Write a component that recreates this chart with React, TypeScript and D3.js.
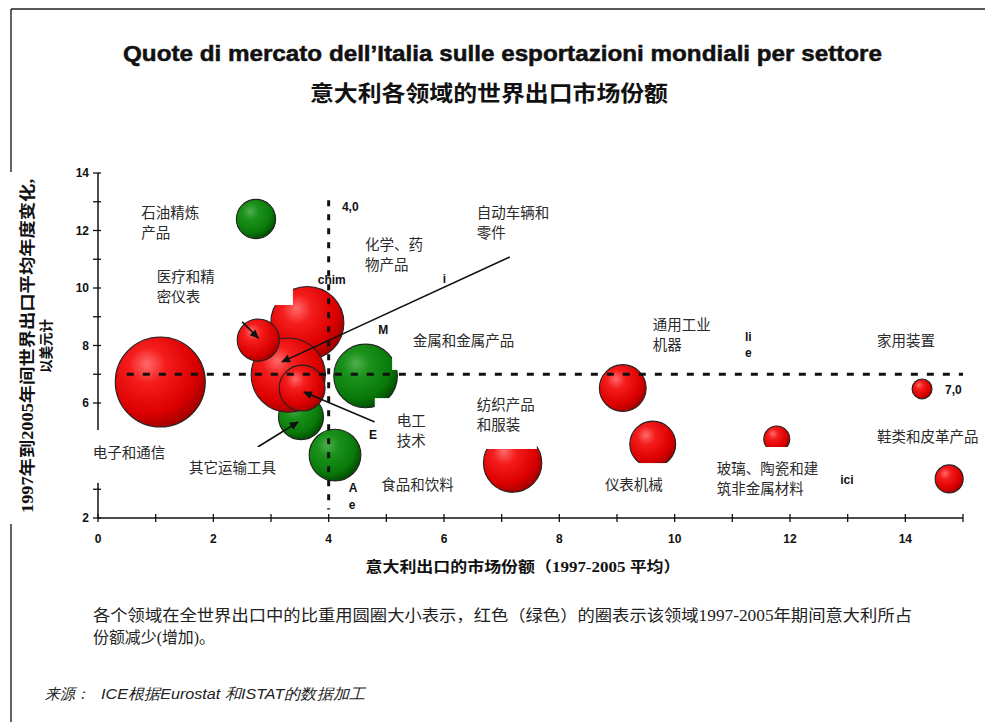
import React from 'react';
import * as d3 from 'd3';

// ---------- data ----------
const sectors = ['电子和通信', '食品和饮料', '其它运输工具', '化学、药物产品', '金属和金属产品', '自动车辆和零件', '医疗和精密仪表', '电工技术', '石油精炼产品', '纺织产品和服装', '通用工业机器', '仪表机械', '玻璃、陶瓷和建筑非金属材料', '家用装置', '鞋类和皮革产品'];
const italyShare = [1.08, 4.11, 3.52, 3.63, 4.64, 3.30, 2.78, 3.54, 2.74, 7.19, 9.10, 9.62, 11.77, 14.29, 14.76];
const worldGrowth = [6.73, 4.19, 5.51, 8.78, 6.94, 6.97, 8.19, 6.52, 12.40, 3.91, 6.52, 4.57, 4.75, 6.49, 3.36];
const worldWeight = [100, 33, 25, 66, 50, 68, 22, 26, 19, 42, 27, 26, 8.3, 4.9, 9.7];
const shareTrend = ['down', 'up', 'up', 'down', 'up', 'down', 'down', 'down', 'up', 'down', 'down', 'down', 'down', 'down', 'down'];

const avgShare = 4.0;
const avgGrowth = 7.0;

const xTicks = d3.range(0, 16);
const yTicks = d3.range(2, 15);

// label text (lines) and anchor (data coords: left x, first line centre y)
const labelLines = [['石油精炼', '产品'], ['医疗和精', '密仪表'], ['化学、药', '物产品'], ['自动车辆和', '零件'], ['金属和金属产品'], ['通用工业', '机器'], ['家用装置'], ['纺织产品', '和服装'], ['电工', '技术'], ['电子和通信'], ['其它运输工具'], ['食品和饮料'], ['仪表机械'], ['玻璃、陶瓷和建', '筑非金属材料'], ['鞋类和皮革产品']];
const labelX = [0.75, 1.02, 4.63, 6.57, 5.46, 9.62, 13.51, 6.57, 5.18, -0.09, 1.58, 4.91, 8.79, 10.73, 13.51];
const labelY = [12.61, 10.38, 11.50, 12.61, 8.16, 8.71, 8.16, 5.93, 5.37, 4.26, 3.74, 3.15, 3.15, 3.70, 4.82];

// white boxes of the translated labels [x0, x1, yTop, yBottom]
const labelBoxes = [
  [0.90, 3.38, 10.6, 9.41],
  [-0.66, 1.34, 5.06, 3.22],
  [1.42, 3.64, 4.47, 3.33],
  [4.58, 6.45, 3.95, 2.63],
  [4.80, 6.45, 6.17, 4.37],
  [5.10, 7.50, 8.71, 7.15],
  [6.45, 7.61, 5.95, 4.40],
  [6.45, 6.66, 4.40, 3.91],
  [8.62, 10.09, 3.91, 2.63],
  [10.53, 12.69, 4.47, 2.63],
];

// leader arrows
const arrowFrom = [[2.50, 8.82], [7.14, 11.08], [4.80, 5.34], [2.77, 4.47]];
const arrowTo = [[2.78, 8.26], [3.19, 7.43], [3.57, 6.38], [3.47, 5.34]];

// remnants of the original Italian labels
const remnantText = ['4,0', 'chim', 'i', 'M', 'E', 'A', 'e', 'li', 'e', 'ici', '7,0'];
const remnantX = [4.23, 3.81, 5.98, 4.86, 4.70, 4.35, 4.35, 11.22, 11.22, 12.87, 14.69];
const remnantY = [12.82, 10.28, 10.31, 8.54, 4.89, 3.04, 2.45, 8.30, 7.74, 3.32, 6.45];

const W = 985;
const H = 722;

export default function App() {
  const x = d3.scaleLinear().domain([0, 15]).range([98, 963]);
  const y = d3.scaleLinear().domain([2, 14]).range([518, 173]);
  const r = d3.scaleSqrt().domain([0, 100]).range([0, 45]);

  const cjk = '"Noto Sans CJK SC", sans-serif';
  const sans = '"Liberation Sans", Arial, sans-serif';
  const serifCjk = '"Liberation Serif", "Noto Sans CJK SC", serif';

  return (
    <svg width={W} height={H} style={{ position: 'absolute', left: 0, top: 0, background: '#fff' }}>
      <defs>
        <radialGradient id="gRed" cx="0.38" cy="0.35" r="0.68" fx="0.35" fy="0.3">
          <stop offset="0%" stopColor="#ff6a6a" />
          <stop offset="30%" stopColor="#f41c1c" />
          <stop offset="75%" stopColor="#dc0000" />
          <stop offset="100%" stopColor="#a30000" />
        </radialGradient>
        <radialGradient id="gGreen" cx="0.38" cy="0.35" r="0.68" fx="0.35" fy="0.3">
          <stop offset="0%" stopColor="#4fae4f" />
          <stop offset="30%" stopColor="#1b921b" />
          <stop offset="75%" stopColor="#0a7a0a" />
          <stop offset="100%" stopColor="#004d00" />
        </radialGradient>
        <marker id="arr" viewBox="0 0 10 10" refX="9" refY="5" markerWidth="11" markerHeight="9" markerUnits="userSpaceOnUse" orient="auto">
          <path d="M0,0.5 L10,5 L0,9.5 z" fill="#111" />
        </marker>
      </defs>

      {/* frame */}
      <line x1={11} y1={9} x2={985} y2={9} stroke="#222" strokeWidth={1.6} />
      <line x1={11} y1={9} x2={11} y2={172} stroke="#222" strokeWidth={1.4} />
      <line x1={11} y1={524} x2={11} y2={722} stroke="#222" strokeWidth={1.4} />

      {/* titles */}
      <text x={123} y={61} fontFamily={sans} fontWeight="bold" fontSize={22} textLength={759} lengthAdjust="spacingAndGlyphs" fill="#111" stroke="#111" strokeWidth={0.5}>
        Quote di mercato dell’Italia sulle esportazioni mondiali per settore
      </text>
      <text x={489} y={101} textAnchor="middle" fontFamily={cjk} fontWeight="bold" fontSize={22} textLength={358} lengthAdjust="spacingAndGlyphs" fill="#111">
        意大利各领域的世界出口市场份额
      </text>

      {/* axes */}
      <line x1={x(0)} y1={y(2)} x2={x(15)} y2={y(2)} stroke="#111" strokeWidth={1.5} />
      <line x1={x(0)} y1={y(2)} x2={x(0)} y2={y(14)} stroke="#111" strokeWidth={1.5} />
      {xTicks.map((t) => (
        <g key={'xt' + t}>
          <line x1={x(t)} x2={x(t)} y1={y(2) - 4} y2={y(2) + 4} stroke="#111" strokeWidth={1.3} />
          {t % 2 === 0 && t <= 14 && (
            <text x={x(t)} y={y(2) + 25} textAnchor="middle" fontFamily={sans} fontWeight="bold" fontSize={12} fill="#111">{t}</text>
          )}
        </g>
      ))}
      {yTicks.map((t) => (
        <g key={'yt' + t}>
          <line x1={x(0) - 5} x2={x(0) + 3} y1={y(t)} y2={y(t)} stroke="#111" strokeWidth={1.3} />
          {t % 2 === 0 && (
            <text x={x(0) - 9} y={y(t)} dy="0.36em" textAnchor="end" fontFamily={sans} fontWeight="bold" fontSize={12} fill="#111">{t}</text>
          )}
        </g>
      ))}

      {/* bubbles */}
      {sectors.map((s, i) => (
        <circle key={s} cx={x(italyShare[i])} cy={y(worldGrowth[i])} r={r(worldWeight[i])}
          fill={shareTrend[i] === 'down' ? 'url(#gRed)' : 'url(#gGreen)'} stroke="#222" strokeWidth={1.1}>
          <title>{s}</title>
        </circle>
      ))}

      {/* leader arrows */}
      {arrowFrom.map((f, i) => (
        <line key={'a' + i} x1={x(f[0])} y1={y(f[1])} x2={x(arrowTo[i][0])} y2={y(arrowTo[i][1])}
          stroke="#111" strokeWidth={1.6} markerEnd="url(#arr)" />
      ))}

      {/* label boxes */}
      {labelBoxes.map((b, i) => (
        <rect key={'b' + i} x={x(b[0])} y={y(b[2])} width={x(b[1]) - x(b[0])} height={y(b[3]) - y(b[2])} fill="#fff" />
      ))}

      {/* average reference lines */}
      <line x1={x(avgShare)} x2={x(avgShare)} y1={y(13.05)} y2={y(2.3)} stroke="#111" strokeWidth={3} strokeDasharray="6 8" />
      <line x1={x(0.5)} x2={x(15)} y1={y(avgGrowth)} y2={y(avgGrowth)} stroke="#111" strokeWidth={3} strokeDasharray="7 9" />

      {/* remnants */}
      {remnantText.map((t, i) => (
        <text key={'r' + i} x={x(remnantX[i])} y={y(remnantY[i])} dy="0.36em" fontFamily={sans} fontWeight="bold" fontSize={12} fill="#111">{t}</text>
      ))}

      {/* sector labels */}
      {labelLines.map((lines, i) => (
        <text key={'l' + i} fontFamily={cjk} fontSize={14.5} fill="#2a2a2a">
          {lines.map((ln, j) => (
            <tspan key={j} x={x(labelX[i])} y={y(labelY[i]) + j * 20} dy="0.36em">{ln}</tspan>
          ))}
        </text>
      ))}

      {/* axis titles */}
      <text x={523} y={572} textAnchor="middle" fontFamily={serifCjk} fontWeight="bold" fontSize={15} textLength={315} lengthAdjust="spacingAndGlyphs" fill="#111">
        意大利出口的市场份额（1997-2005 平均）
      </text>
      <g transform="translate(27,346) rotate(-90)">
        <text x={0} y={0} dy="0.36em" textAnchor="middle" fontFamily={serifCjk} fontWeight="bold" fontSize={16} textLength={334} lengthAdjust="spacingAndGlyphs" fill="#111">
          1997年到2005年间世界出口平均年度变化,
        </text>
      </g>
      <g transform="translate(46,346) rotate(-90)">
        <text x={0} y={0} dy="0.36em" textAnchor="middle" fontFamily={serifCjk} fontWeight="bold" fontSize={14} textLength={54} lengthAdjust="spacingAndGlyphs" fill="#111">
          以美元计
        </text>
      </g>

      {/* note */}
      <text x={93} y={621} fontFamily={serifCjk} fontSize={16} textLength={819} lengthAdjust="spacingAndGlyphs" fill="#222">
        各个领域在全世界出口中的比重用圆圈大小表示，红色（绿色）的圈表示该领域1997-2005年期间意大利所占
      </text>
      <text x={93} y={643} fontFamily={serifCjk} fontSize={16} textLength={122} lengthAdjust="spacingAndGlyphs" fill="#222">
        份额减少(增加)。
      </text>

      {/* source */}
      <text x={45} y={699} fontFamily={sans} fontStyle="italic" fontSize={15} fill="#222">来源：</text>
      <text x={101} y={699} fontFamily={sans} fontStyle="italic" fontSize={15} textLength={264} lengthAdjust="spacingAndGlyphs" fill="#222">
        ICE根据Eurostat 和ISTAT的数据加工
      </text>
    </svg>
  );
}
